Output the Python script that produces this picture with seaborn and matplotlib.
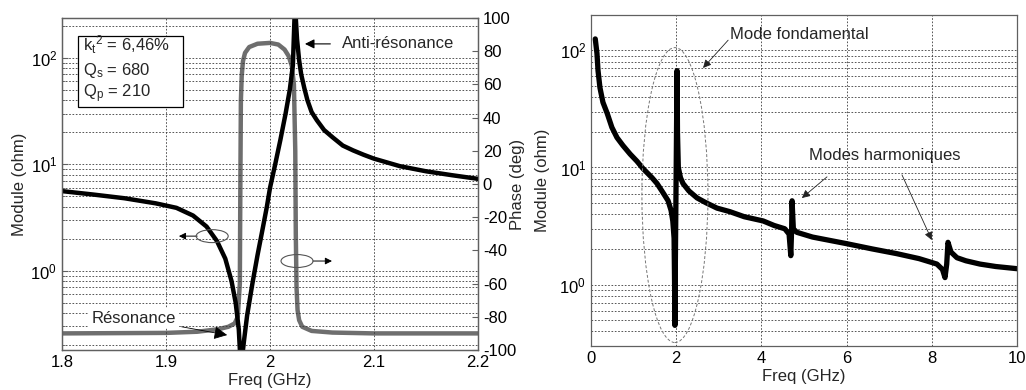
import matplotlib
matplotlib.use("Agg")
import numpy as np
import pandas as pd
import seaborn as sns
import matplotlib.pyplot as plt
from matplotlib.patches import Ellipse, Rectangle

# ---------------- data ----------------
freq_left = [1.80, 1.83, 1.86, 1.89, 1.91, 1.926, 1.939, 1.949, 1.957, 1.963, 1.967,
             1.970, 1.972, 1.975, 1.978, 1.983, 1.988, 1.993, 1.997, 2.000, 2.005,
             2.010, 2.015, 2.019, 2.022, 2.024, 2.026, 2.028, 2.030, 2.033, 2.036,
             2.040, 2.045, 2.052, 2.060, 2.070, 2.080, 2.090, 2.100, 2.125, 2.150,
             2.175, 2.200]
module_left = [5.6, 5.2, 4.8, 4.3, 3.9, 3.3, 2.6, 1.9, 1.3, 0.8, 0.5,
               0.28, 0.12, 0.22, 0.38, 0.75, 1.4, 2.5, 4.0, 6.0, 10.0,
               17.0, 30.0, 50.0, 85.0, 320.0, 150.0, 95.0, 70.0, 52.0, 40.0,
               31.0, 26.0, 21.0, 18.0, 15.0, 13.5, 12.3, 11.3, 9.6, 8.6,
               7.9, 7.3]

freq_phase = [1.80, 1.90, 1.93, 1.95, 1.960, 1.966, 1.969, 1.971, 1.9715, 1.972,
              1.9728, 1.974, 1.976, 1.980, 1.988, 2.000, 2.008, 2.014, 2.018,
              2.021, 2.023, 2.0243, 2.0248, 2.0255, 2.0265, 2.028, 2.031, 2.040,
              2.060, 2.100, 2.200]
phase_deg = [-90, -89.7, -89, -87.5, -86, -84, -80, -60, 0, 50,
             65, 74, 79, 82.5, 84.5, 85, 84, 81, 77,
             71, 60, 20, -30, -62, -76, -82, -86, -88.5,
             -89.5, -90, -90]

freq_right = [0.10, 0.14, 0.165, 0.21, 0.28, 0.38, 0.49, 0.61, 0.75, 0.92, 1.08,
              1.22, 1.43, 1.55, 1.69, 1.81, 1.88, 1.92, 1.95, 1.96, 1.97, 1.98,
              2.00, 2.02, 2.03, 2.05, 2.10, 2.16, 2.30, 2.49, 2.70, 2.96, 3.26,
              3.60, 4.04, 4.30, 4.55, 4.65, 4.69, 4.71, 4.72, 4.75, 4.83, 5.20,
              6.00, 6.60, 7.18, 7.70, 8.12, 8.25, 8.31, 8.35, 8.38, 8.45, 8.59,
              8.80, 9.13, 9.50, 10.0]
module_right = [125, 94, 67, 48, 36, 29, 22, 18, 15.4, 13, 11.3,
                9.8, 8.2, 7.3, 6.1, 5.2, 4.3, 3.5, 2.5, 1.2, 0.45, 1.5,
                10, 67, 20, 10, 8.2, 7.3, 6.3, 5.5, 5.0, 4.5, 4.2,
                3.8, 3.5, 3.2, 3.0, 2.7, 1.77, 3.0, 5.2, 3.0, 2.8, 2.55,
                2.24, 2.02, 1.84, 1.67, 1.5, 1.35, 1.15, 1.5, 2.3, 1.9, 1.7,
                1.6, 1.5, 1.43, 1.37]

left_xticks = [1.8, 1.9, 2.0, 2.1, 2.2]
left_xticklabels = ["1.8", "1.9", "2", "2.1", "2.2"]
phase_ticks = [-100, -80, -60, -40, -20, 0, 20, 40, 60, 80, 100]
right_xticks = [0, 2, 4, 6, 8, 10]

# ---------------- style ----------------
sns.set_style("white")
plt.rcParams["font.family"] = ["Liberation Sans", "DejaVu Sans"]
plt.rcParams["mathtext.fontset"] = "custom"
plt.rcParams["mathtext.rm"] = "Liberation Sans"
plt.rcParams["mathtext.it"] = "Liberation Sans:italic"
plt.rcParams["mathtext.bf"] = "Liberation Sans:bold"
plt.rcParams["font.size"] = 12
plt.rcParams["axes.unicode_minus"] = False

GRID = dict(color="#3a3a3a", linewidth=0.6, linestyle=(0, (2, 2)))
SPINE = "#606060"

fig = plt.figure(figsize=(10.26, 3.9), dpi=100)
axL = fig.add_axes([62 / 1026, 40 / 390, 416 / 1026, 332 / 390])
axR = fig.add_axes([591 / 1026, 44 / 390, 426 / 1026, 331 / 390])

def style_axes(ax):
    for s in ax.spines.values():
        s.set_color(SPINE)
        s.set_linewidth(0.9)
    ax.tick_params(which="both", direction="in", colors=SPINE, labelcolor="black",
                   labelsize=12)
    ax.tick_params(which="major", length=4)
    ax.tick_params(which="minor", length=2)

# ---------------- left panel ----------------
dfL = pd.DataFrame({"f": freq_left, "z": module_left})
dfP = pd.DataFrame({"f": freq_phase, "p": phase_deg})

axP = axL.twinx()
sns.lineplot(data=dfP, x="f", y="p", ax=axP, color="#6e6e6e", linewidth=3.2,
             estimator=None, sort=False, legend=False)
sns.lineplot(data=dfL, x="f", y="z", ax=axL, color="black", linewidth=3.2,
             estimator=None, sort=False, legend=False)
axL.set_zorder(axP.get_zorder() + 1)
axL.patch.set_visible(False)

axL.set_yscale("log")
axL.set_xlim(1.8, 2.2)
axL.set_ylim(0.18, 237)
axL.set_xticks(left_xticks)
axL.set_xticklabels(left_xticklabels)
axP.set_ylim(-100, 100)
axP.set_yticks(phase_ticks)
axL.grid(True, which="major", axis="x", **GRID)
axL.grid(True, which="both", axis="y", **GRID)
style_axes(axL)
style_axes(axP)
axL.set_xlabel("Freq (GHz)", fontsize=12)
axL.set_ylabel("Module (ohm)", fontsize=12)
axP.set_ylabel("Phase (deg)", fontsize=12)
axL.xaxis.set_label_coords(0.5, -0.068)
axL.yaxis.set_label_coords(-0.084, 0.5)
axP.yaxis.set_label_coords(1.077, 0.5)

# parameter box
axL.add_patch(Rectangle((0.0385, 0.732), 0.2524, 0.214, transform=axL.transAxes,
                        facecolor="white", edgecolor="black", linewidth=0.9, zorder=5))
axL.text(0.05, 0.919, r"k$_\mathrm{t}$$^\mathrm{2}$ = 6,46%", transform=axL.transAxes,
         va="center", ha="left", fontsize=12, zorder=6)
axL.text(0.05, 0.843, r"Q$_\mathrm{s}$ = 680", transform=axL.transAxes,
         va="center", ha="left", fontsize=12, zorder=6)
axL.text(0.05, 0.771, r"Q$_\mathrm{p}$ = 210", transform=axL.transAxes,
         va="center", ha="left", fontsize=12, zorder=6)

arrow_k = dict(arrowstyle="-|>", color="black", linewidth=0.8, mutation_scale=14)
axL.annotate("Anti-résonance", xy=(0.584, 0.922), xytext=(0.673, 0.922),
             xycoords="axes fraction", textcoords="axes fraction",
             va="center", ha="left", fontsize=12,
             arrowprops=dict(arrow_k, shrinkA=6, shrinkB=0))
axL.annotate("Résonance", xy=(0.397, 0.045), xytext=(0.072, 0.096),
             xycoords="axes fraction", textcoords="axes fraction",
             va="center", ha="left", fontsize=12,
             bbox=dict(boxstyle="square,pad=0.15", fc="white", ec="none"),
             arrowprops=dict(arrowstyle="-|>", color="black", linewidth=0.6,
                             mutation_scale=20, shrinkA=2, shrinkB=0))

for cx, cy, ax0, ax1 in [(0.361, 0.343, 0.325, 0.281), (0.565, 0.268, 0.603, 0.649)]:
    axL.add_patch(Ellipse((cx, cy), 0.077, 0.039,
                          transform=axL.transAxes, facecolor="none",
                          edgecolor="#555555", linewidth=0.8, zorder=6))
    axL.annotate("", xy=(ax1, cy), xytext=(ax0, cy), xycoords="axes fraction",
                 textcoords="axes fraction",
                 arrowprops=dict(arrowstyle="-|>", color="black", linewidth=0.7,
                                 mutation_scale=10, shrinkA=0, shrinkB=0))

# ---------------- right panel ----------------
dfR = pd.DataFrame({"f": freq_right, "z": module_right})
sns.lineplot(data=dfR, x="f", y="z", ax=axR, color="black", linewidth=3.8,
             estimator=None, sort=False, legend=False)
axR.set_yscale("log")
axR.set_xlim(0, 10)
axR.set_ylim(0.3, 200)
axR.set_xticks(right_xticks)
axR.grid(True, which="major", axis="x", **GRID)
axR.grid(True, which="both", axis="y", **GRID)
style_axes(axR)
axR.set_xlabel("Freq (GHz)", fontsize=12)
axR.set_ylabel("Module (ohm)", fontsize=12)
axR.xaxis.set_label_coords(0.5, -0.07)
axR.yaxis.set_label_coords(-0.096, 0.5)

axR.add_patch(Ellipse((0.197, 0.456), 0.155, 0.891, transform=axR.transAxes,
                      facecolor="none", edgecolor="#777777", linewidth=0.7,
                      linestyle=(0, (3, 2)), zorder=4))
thin = dict(arrowstyle="-|>", color="#222222", linewidth=0.6, mutation_scale=12,
            shrinkA=0, shrinkB=0)
axR.text(0.326, 0.94, "Mode fondamental", transform=axR.transAxes,
         va="center", ha="left", fontsize=12)
axR.annotate("", xy=(0.263, 0.84), xytext=(0.322, 0.924), xycoords="axes fraction",
             textcoords="axes fraction", arrowprops=thin)
axR.text(0.512, 0.577, "Modes harmoniques", transform=axR.transAxes,
         va="center", ha="left", fontsize=12)
axR.annotate("", xy=(0.495, 0.447), xytext=(0.554, 0.511), xycoords="axes fraction",
             textcoords="axes fraction", arrowprops=thin)
axR.annotate("", xy=(0.80, 0.32), xytext=(0.73, 0.517), xycoords="axes fraction",
             textcoords="axes fraction", arrowprops=thin)

fig.savefig("out.png", dpi=100)
